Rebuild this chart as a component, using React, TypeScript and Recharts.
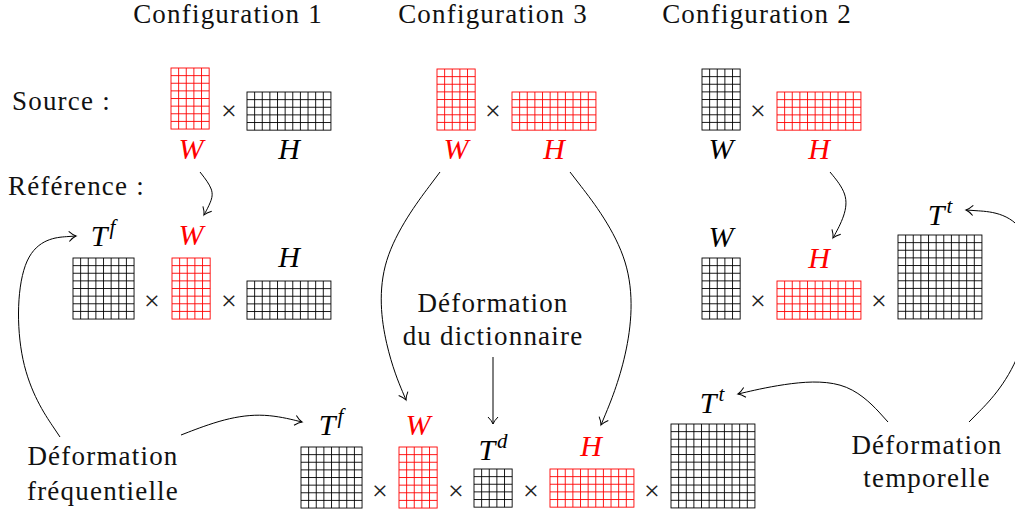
import React from 'react'
import { ComposedChart, Scatter, Line, XAxis, YAxis } from 'recharts'

// diagram space = pixel space: x 0..1015, y 0..514 (top down)
const WIDTH = 1015
const HEIGHT = 514
const CELL = 7.63
const RED = '#ff0000'
const SERIF = "'Liberation Serif', 'DejaVu Serif', 'Noto Serif', 'Times New Roman', Times, serif"

// matrices: top-left corner, size in cells, hl = highlighted (red)
const sourceMatrices = [
  { x: 171, y: 68, cols: 5, rows: 8, hl: true },
  { x: 247, y: 92, cols: 11, rows: 5, hl: false },
  { x: 437, y: 69, cols: 5, rows: 8, hl: true },
  { x: 512, y: 92, cols: 11, rows: 5, hl: true },
  { x: 702, y: 69, cols: 5, rows: 8, hl: false },
  { x: 777, y: 92, cols: 11, rows: 5, hl: true },
]
const refMatrices = [
  { x: 73, y: 258, cols: 8, rows: 8, hl: false },
  { x: 172, y: 258, cols: 5, rows: 8, hl: true },
  { x: 247, y: 281, cols: 11, rows: 5, hl: false },
  { x: 702, y: 258, cols: 5, rows: 8, hl: false },
  { x: 777, y: 281, cols: 11, rows: 5, hl: true },
  { x: 898, y: 235, cols: 11, rows: 11, hl: false },
]
const jointMatrices = [
  { x: 301, y: 447, cols: 8, rows: 8, hl: false },
  { x: 399, y: 447, cols: 5, rows: 8, hl: true },
  { x: 474, y: 469, cols: 5, rows: 5, hl: false },
  { x: 550, y: 469, cols: 11, rows: 5, hl: true },
  { x: 671, y: 424, cols: 11, rows: 11, hl: false },
]

const timesSigns = [
  { x: 229, y: 110 }, { x: 493, y: 110 }, { x: 758, y: 110 },
  { x: 152, y: 300 }, { x: 229, y: 300 }, { x: 758, y: 300 }, { x: 879, y: 300 },
  { x: 380, y: 490 }, { x: 456, y: 490 }, { x: 531, y: 490 }, { x: 652, y: 490 },
]

// math symbols: centre x, baseline y
const symbols = [
  { x: 191, y: 159, base: 'W', sup: '', hl: true },
  { x: 289, y: 159, base: 'H', sup: '', hl: false },
  { x: 456, y: 159, base: 'W', sup: '', hl: true },
  { x: 554, y: 159, base: 'H', sup: '', hl: true },
  { x: 721, y: 159, base: 'W', sup: '', hl: false },
  { x: 819, y: 159, base: 'H', sup: '', hl: true },
  { x: 103, y: 246, base: 'T', sup: 'f', hl: false },
  { x: 191, y: 245, base: 'W', sup: '', hl: true },
  { x: 289, y: 267, base: 'H', sup: '', hl: false },
  { x: 721, y: 247, base: 'W', sup: '', hl: false },
  { x: 819, y: 268, base: 'H', sup: '', hl: true },
  { x: 940, y: 225, base: 'T', sup: 't', hl: false },
  { x: 331, y: 435, base: 'T', sup: 'f', hl: false },
  { x: 418, y: 435, base: 'W', sup: '', hl: true },
  { x: 493, y: 460, base: 'T', sup: 'd', hl: false },
  { x: 591, y: 456, base: 'H', sup: '', hl: true },
  { x: 712, y: 413, base: 'T', sup: 't', hl: false },
]

const words = [
  { x: 228, y: 23, text: 'Configuration 1', anchor: 'middle' },
  { x: 493, y: 23, text: 'Configuration 3', anchor: 'middle' },
  { x: 757, y: 23, text: 'Configuration 2', anchor: 'middle' },
  { x: 12, y: 110, text: 'Source :', anchor: 'start' },
  { x: 8, y: 195, text: 'Référence :', anchor: 'start' },
  { x: 493, y: 312, text: 'Déformation', anchor: 'middle' },
  { x: 493, y: 345, text: 'du dictionnaire', anchor: 'middle' },
  { x: 103, y: 465, text: 'Déformation', anchor: 'middle' },
  { x: 103, y: 500, text: 'fréquentielle', anchor: 'middle' },
  { x: 927, y: 454, text: 'Déformation', anchor: 'middle' },
  { x: 927, y: 487, text: 'temporelle', anchor: 'middle' },
]

// arrows: control polygons (B-spline), last point = tip
const arrowConf1 = [{ x: 200, y: 172 }, { x: 214, y: 190 }, { x: 211, y: 202 }, { x: 204, y: 215 }]
const arrowConf3W = [{ x: 440, y: 172 }, { x: 374, y: 260 }, { x: 385, y: 350 }, { x: 406, y: 400 }]
const arrowConf3H = [{ x: 570, y: 172 }, { x: 638, y: 260 }, { x: 628, y: 360 }, { x: 601, y: 425 }]
const arrowDict = [{ x: 493, y: 357 }, { x: 493, y: 424 }]
const arrowConf2 = [{ x: 830, y: 172 }, { x: 848, y: 194 }, { x: 845, y: 216 }, { x: 833, y: 238 }]
const arrowFreqUp = [{ x: 60, y: 437 }, { x: 15, y: 370 }, { x: 18, y: 240 }, { x: 76, y: 236 }]
const arrowFreqRight = [{ x: 181, y: 435 }, { x: 225, y: 418 }, { x: 265, y: 413 }, { x: 302, y: 422 }]
const arrowTempLeft = [{ x: 888, y: 422 }, { x: 850, y: 380 }, { x: 790, y: 382 }, { x: 738, y: 394 }]
const arrowTempUp = [{ x: 969, y: 422 }, { x: 1030, y: 360 }, { x: 1040, y: 215 }, { x: 966, y: 210 }]

const arrows = [
  arrowConf1, arrowConf3W, arrowConf3H, arrowDict, arrowConf2,
  arrowFreqUp, arrowFreqRight, arrowTempLeft, arrowTempUp,
]

function MatrixShape(props: any) {
  const { cx, cy, payload } = props
  const color = payload.hl ? RED : '#000'
  const w = payload.cols * CELL
  const h = payload.rows * CELL
  const lines = []
  for (let i = 1; i < payload.cols; i++) {
    lines.push(<line key={'v' + i} x1={cx + i * CELL} y1={cy} x2={cx + i * CELL} y2={cy + h} />)
  }
  for (let j = 1; j < payload.rows; j++) {
    lines.push(<line key={'h' + j} x1={cx} y1={cy + j * CELL} x2={cx + w} y2={cy + j * CELL} />)
  }
  return (
    <g stroke={color} strokeWidth={0.9} fill="none">
      {lines}
      <rect x={cx} y={cy} width={w} height={h} />
    </g>
  )
}

function TimesShape(props: any) {
  const { cx, cy } = props
  return (
    <text x={cx} y={cy} textAnchor="middle" dominantBaseline="central" style={{ fontFamily: SERIF, fontSize: 28 }} fill="#222">
      ×
    </text>
  )
}

function SymbolShape(props: any) {
  const { cx, cy, payload } = props
  return (
    <text x={cx} y={cy} textAnchor="middle" style={{ fontFamily: SERIF, fontStyle: 'italic', fontSize: 30 }} fill={payload.hl ? RED : '#000'}>
      {payload.base}
      {payload.sup && <tspan dx={2} dy={-12} style={{ fontSize: 21 }}>{payload.sup}</tspan>}
    </text>
  )
}

function WordShape(props: any) {
  const { cx, cy, payload } = props
  return (
    <text x={cx} y={cy} textAnchor={payload.anchor} style={{ fontFamily: SERIF, fontSize: 27, letterSpacing: 1.2 }} fill="#111">
      {payload.text}
    </text>
  )
}

// open tikz-like arrow tip at the last point, oriented along the last segment
function tipDot(points: { x: number; y: number }[]) {
  const n = points.length
  const a = points[n - 2]
  const b = points[n - 1]
  const angle = (Math.atan2(b.y - a.y, b.x - a.x) * 180) / Math.PI
  return (p: any) => {
    if (p.index !== n - 1) return <g key={p.key ?? 'd' + p.index} />
    return (
      <path
        key={p.key ?? 'tip'}
        d="M -7 -5 Q -3 -1 0 0 Q -3 1 -7 5"
        transform={`translate(${p.cx},${p.cy}) rotate(${angle})`}
        fill="none"
        stroke="#000"
        strokeWidth={1}
      />
    )
  }
}

export default function App() {
  return (
    <div style={{ position: 'fixed', left: 0, top: 0, width: WIDTH, height: HEIGHT, background: '#fff', fontFamily: SERIF }}>
      <ComposedChart width={WIDTH} height={HEIGHT} margin={{ top: 0, right: 0, bottom: 0, left: 0 }}>
        <XAxis type="number" dataKey="x" domain={[0, WIDTH]} allowDataOverflow hide />
        <YAxis type="number" dataKey="y" domain={[0, HEIGHT]} allowDataOverflow reversed hide />
        {arrows.map((pts, i) => (
          <Line
            key={'arrow' + i}
            data={pts}
            dataKey="y"
            type="basis"
            stroke="#000"
            strokeWidth={1}
            dot={tipDot(pts)}
            activeDot={false}
            isAnimationActive={false}
          />
        ))}
        <Scatter data={sourceMatrices} shape={MatrixShape} isAnimationActive={false} />
        <Scatter data={refMatrices} shape={MatrixShape} isAnimationActive={false} />
        <Scatter data={jointMatrices} shape={MatrixShape} isAnimationActive={false} />
        <Scatter data={timesSigns} shape={TimesShape} isAnimationActive={false} />
        <Scatter data={symbols} shape={SymbolShape} isAnimationActive={false} />
        <Scatter data={words} shape={WordShape} isAnimationActive={false} />
      </ComposedChart>
    </div>
  )
}
